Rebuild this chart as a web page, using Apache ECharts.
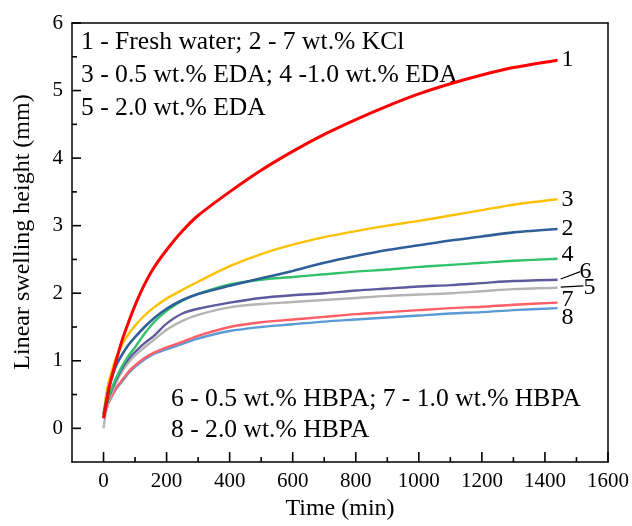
<!DOCTYPE html>
<html>
<head>
<meta charset="utf-8">
<script src="https://cdn.jsdelivr.net/npm/echarts@6/dist/echarts.min.js"></script>
<style>
html,body{margin:0;padding:0;background:#fff;}
#chart{width:632px;height:526px;}
</style>
</head>
<body>
<div id="chart"></div>
<script>
// ---- data ----
const time = [0,10,20,40,60,80,100,130,160,200,250,300,400,500,600,700,800,900,1000,1100,1200,1300,1440];
const s1 = [0.15,0.4,0.65,1.0,1.32,1.58,1.82,2.13,2.38,2.64,2.92,3.15,3.5,3.82,4.1,4.35,4.57,4.77,4.95,5.1,5.23,5.34,5.45];
const s2 = [0.2,0.45,0.65,0.93,1.1,1.24,1.35,1.5,1.63,1.77,1.9,1.99,2.11,2.22,2.33,2.45,2.55,2.64,2.71,2.78,2.84,2.9,2.95];
const s3 = [0.2,0.55,0.75,1.05,1.25,1.4,1.52,1.67,1.79,1.92,2.05,2.17,2.4,2.58,2.72,2.83,2.92,3.0,3.07,3.15,3.23,3.31,3.39];
const s4 = [0.2,0.38,0.52,0.75,0.93,1.08,1.2,1.4,1.57,1.74,1.89,1.99,2.13,2.2,2.24,2.28,2.32,2.35,2.39,2.42,2.45,2.48,2.51];
const s5 = [0.0,0.3,0.45,0.68,0.85,0.98,1.08,1.2,1.31,1.46,1.59,1.68,1.79,1.84,1.87,1.9,1.93,1.96,1.98,2.0,2.03,2.06,2.08];
const s6 = [0.15,0.35,0.5,0.72,0.9,1.03,1.13,1.26,1.37,1.55,1.7,1.77,1.86,1.93,1.97,2.0,2.04,2.07,2.1,2.12,2.15,2.18,2.2];
const s7 = [0.15,0.3,0.42,0.6,0.72,0.84,0.93,1.04,1.12,1.2,1.28,1.37,1.5,1.57,1.61,1.65,1.69,1.72,1.75,1.78,1.8,1.83,1.86];
const s8 = [0.22,0.32,0.42,0.58,0.7,0.82,0.91,1.02,1.1,1.17,1.25,1.33,1.44,1.5,1.54,1.58,1.61,1.64,1.67,1.7,1.72,1.75,1.78];
const seriesNames = ['1','2','3','4','5','6','7','8'];
const xMajorTicks = [0,200,400,600,800,1000,1200,1400,1600];
const xMinorTicks = [100,300,500,700,900,1100,1300,1500];
const yMajorTicks = [0,1,2,3,4,5,6];
const yMinorTicks = [0.5,1.5,2.5,3.5,4.5,5.5];
const xTitle = 'Time (min)';
const yTitle = 'Linear swelling height (mm)';
const legendTop = ['1 - Fresh water; 2 - 7 wt.% KCl','3 - 0.5 wt.% EDA; 4 -1.0 wt.% EDA','5 - 2.0 wt.% EDA'];
const legendBottom = ['6 - 0.5 wt.% HBPA; 7 - 1.0 wt.% HBPA','8 - 2.0 wt.% HBPA'];
// arrow annotations (data coords): [tailT, tailV, headT, headV]
const arrow6 = [1512, 2.32, 1450, 2.21];
const arrow5 = [1522, 2.11, 1450, 2.09];

// ---- styling ----
const X_MIN = -100, X_MAX = 1600, Y_MIN = -0.5, Y_MAX = 6;
const FONT = "'Liberation Serif','Times New Roman',serif";
const values = [s1,s2,s3,s4,s5,s6,s7,s8];
const colors = ['#ff0000','#2f5f99','#ffc000','#33c26b','#b4b4b4','#5b5b9d','#ff5f66','#5b9bd5'];
const widths = [3,2.6,2.4,2.4,2.4,2.4,2.4,2.4];
const labelOffsets = [[0,0],[0,0],[0,0],[0,-4],[22,0],[18,-8],[0,-3],[0,10]];
const zOrder = [8,7,6,5,3,4,2,1];

const chart = echarts.init(document.getElementById('chart'), null, {renderer:'canvas'});

const series = values.map((v,i) => ({
  name: seriesNames[i],
  type: 'line',
  data: time.map((t,k) => [t, v[k]]),
  smooth: 0.3,
  showSymbol: false,
  symbol: 'none',
  z: zOrder[i],
  lineStyle: {color: colors[i], width: widths[i]},
  itemStyle: {color: colors[i]},
  endLabel: {
    show: true,
    formatter: seriesNames[i],
    color: '#000',
    fontFamily: FONT,
    fontSize: 24,
    distance: 4,
    offset: labelOffsets[i]
  },
  animation: false
}));

// arrows pointing at curves 6 and 5
series.push({
  type: 'line',
  data: [],
  silent: true,
  markLine: {
    silent: true,
    animation: false,
    symbol: ['none','arrow'],
    symbolSize: [0, 11],
    label: {show: false},
    lineStyle: {color: '#000', width: 1.2, type: 'solid'},
    data: [
      [{coord: [arrow6[0], arrow6[1]]}, {coord: [arrow6[2], arrow6[3]]}],
      [{coord: [arrow5[0], arrow5[1]]}, {coord: [arrow5[2], arrow5[3]]}]
    ]
  }
});

// inward axis ticks, placed through the axes' own scales
const xTickData = xMajorTicks.map(v => [v, Y_MIN, 10]).concat(xMinorTicks.map(v => [v, Y_MIN, 5]));
const yTickData = yMajorTicks.map(v => [X_MIN, v, 9]).concat(yMinorTicks.map(v => [X_MIN, v, 5]));
series.push({
  type: 'custom', silent: true, z: 20, clip: false, animation: false,
  data: xTickData,
  encode: {x: 0, y: 1},
  renderItem: (params, api) => {
    const p = api.coord([api.value(0), api.value(1)]);
    const len = api.value(2);
    return {type: 'line', shape: {x1: p[0], y1: p[1], x2: p[0], y2: p[1] - len},
            style: {stroke: '#000', lineWidth: 1.6}};
  }
});
series.push({
  type: 'custom', silent: true, z: 20, clip: false, animation: false,
  data: yTickData,
  encode: {x: 0, y: 1},
  renderItem: (params, api) => {
    const p = api.coord([api.value(0), api.value(1)]);
    const len = api.value(2);
    return {type: 'line', shape: {x1: p[0], y1: p[1], x2: p[0] + len, y2: p[1]},
            style: {stroke: '#000', lineWidth: 1.6}};
  }
});

const tickFont = {fontFamily: FONT, fontSize: 21, color: '#000'};

const option = {
  animation: false,
  backgroundColor: '#fff',
  grid: {left: 72, right: 22, top: 23, bottom: 58, show: false, containLabel: false},
  xAxis: [
    {
      type: 'value', min: X_MIN, max: X_MAX, interval: 100, position: 'bottom', z: 5,
      name: xTitle, nameLocation: 'middle', nameGap: 24,
      nameTextStyle: {fontFamily: FONT, fontSize: 24, color: '#000'},
      axisLine: {show: true, onZero: false, lineStyle: {color: '#000', width: 1.5}},
      axisTick: {show: false},
      axisLabel: Object.assign({
        margin: 9, showMinLabel: true, showMaxLabel: true, hideOverlap: false,
        formatter: v => (v >= 0 && Math.round(v) % 200 === 0) ? String(Math.round(v)) : ''
      }, tickFont),
      splitLine: {show: false}
    },
    {
      type: 'value', min: X_MIN, max: X_MAX, position: 'top', offset: 0, z: 5,
      axisLine: {show: true, onZero: false, lineStyle: {color: '#000', width: 1.5}},
      axisTick: {show: false}, axisLabel: {show: false}, splitLine: {show: false}
    }
  ],
  yAxis: [
    {
      type: 'value', min: Y_MIN, max: Y_MAX, interval: 0.5, position: 'left', z: 5,
      axisLine: {show: true, onZero: false, lineStyle: {color: '#000', width: 1.5}},
      axisTick: {show: false},
      axisLabel: Object.assign({
        margin: 9, showMinLabel: true, showMaxLabel: true, hideOverlap: false,
        formatter: v => (v >= 0 && Math.abs(v - Math.round(v)) < 1e-6) ? String(Math.round(v)) : ''
      }, tickFont),
      splitLine: {show: false}
    },
    {
      type: 'value', min: Y_MIN, max: Y_MAX, position: 'right', offset: 0, z: 5,
      axisLine: {show: true, onZero: false, lineStyle: {color: '#000', width: 1.5}},
      axisTick: {show: false}, axisLabel: {show: false}, splitLine: {show: false}
    }
  ],
  graphic: [
    {
      type: 'text', x: 23, y: 232, rotation: Math.PI / 2, silent: true,
      style: {text: yTitle, font: '24px ' + FONT, fill: '#000', textAlign: 'center', textVerticalAlign: 'middle'}
    },
    ...legendTop.map((t,i) => ({
      type: 'text', x: 81, y: 42.5 + i*33, silent: true,
      style: {text: t, font: '25.6px ' + FONT, fill: '#000', textVerticalAlign: 'middle'}
    })),
    ...legendBottom.map((t,i) => ({
      type: 'text', x: 171, y: 399.5 + i*30.5, silent: true,
      style: {text: t, font: '25.6px ' + FONT, fill: '#000', textVerticalAlign: 'middle'}
    }))
  ],
  series: series
};
chart.setOption(option);
</script>
</body>
</html>
